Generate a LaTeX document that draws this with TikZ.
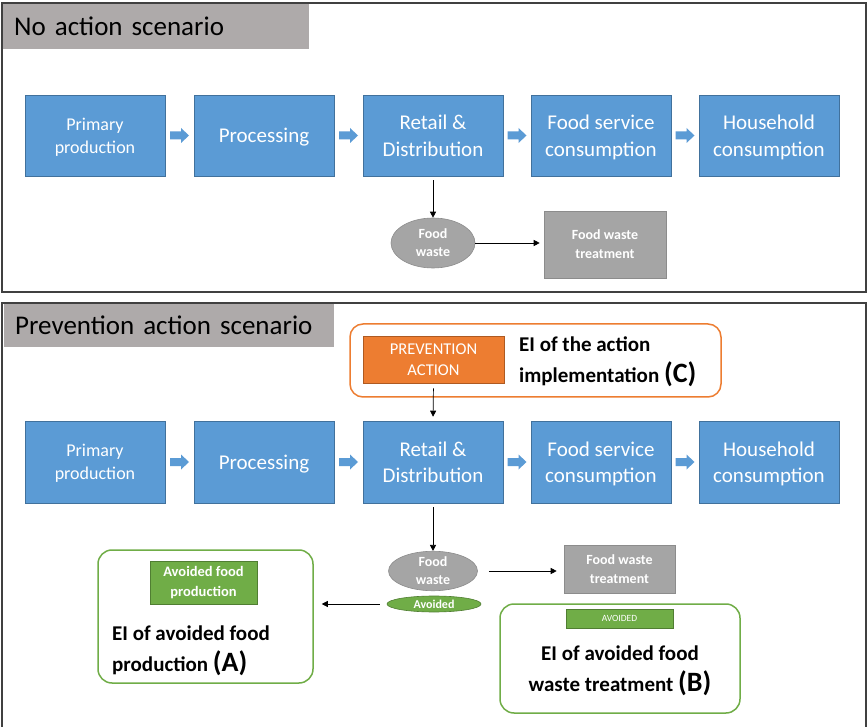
\documentclass[tikz,border=0pt]{standalone}
\usepackage{fontspec}
\setmainfont{Carlito}
\usetikzlibrary{shapes.geometric,arrows.meta,calc}
\definecolor{bluefill}{HTML}{5B9BD5}
\definecolor{blueline}{HTML}{41719C}
\definecolor{titlegray}{HTML}{AEAAAA}
\definecolor{boxgray}{HTML}{A5A5A5}
\definecolor{boxgrayline}{HTML}{8C8C8C}
\definecolor{orfill}{HTML}{ED7D31}
\definecolor{orline}{HTML}{AE5A21}
\definecolor{grfill}{HTML}{70AD47}
\definecolor{grline}{HTML}{507E32}
\definecolor{panelline}{HTML}{404040}
\newcommand\blkarrow[1]{\fill[bluefill] (#1) ++(-9.5,-4) -- ++(11,0) -- ++(0,-3.5) -- ++(8,7.5) -- ++(-8,7.5) -- ++(0,-3.5) -- ++(-11,0) -- cycle;}
\begin{document}
\begin{tikzpicture}[x=1pt,y=-1pt,
  panel/.style={draw=panelline,line width=1.2pt},
  titlebox/.style={fill=titlegray,anchor=north west,inner xsep=11pt,inner ysep=0pt,align=left,font=\fontsize{27}{32}\selectfont},
  stage/.style={draw=blueline,fill=bluefill,line width=0.6pt,minimum width=140pt,minimum height=81pt,inner sep=0pt,text=white,align=center,text depth=0pt,font=\fontsize{21}{26.5}\selectfont},
  smallstage/.style={stage,font=\fontsize{18}{23}\selectfont},
  waste/.style={ellipse,fill=boxgray,draw=boxgrayline,line width=0.6pt,inner sep=0pt,text=white,align=center,font=\bfseries\fontsize{14}{18}\selectfont},
  treat/.style={rectangle,fill=boxgray,draw=boxgrayline,line width=0.6pt,inner sep=0pt,text=white,align=center,font=\bfseries\fontsize{14}{19}\selectfont},
  conn/.style={draw=black,line width=0.7pt,-{Triangle[length=6pt,width=6pt]}},
  orround/.style={draw=orfill,line width=1.5pt,fill=white,rounded corners=13pt},
  grround/.style={rectangle,draw=grfill,line width=1.5pt,fill=white,rounded corners=14pt,inner sep=0pt},
  orrect/.style={rectangle,fill=orfill,draw=orline,line width=0.6pt,inner sep=0pt,text=white,align=center,font=\fontsize{16.5}{21}\selectfont},
  grrect/.style={rectangle,fill=grfill,draw=grline,line width=0.6pt,inner sep=0pt,text=white,align=center,font=\bfseries\fontsize{14.5}{20}\selectfont},
  eitext/.style={inner sep=0pt,font=\bfseries\fontsize{21}{31}\selectfont}
]
\useasboundingbox (0,0) rectangle (868,727);
\fill[white] (0,0) rectangle (868,727);

% ---------- No action scenario ----------
\draw[panel] (2,3) rectangle (866,292);
\node[titlebox,text width=284pt,minimum height=45pt] (t1) at (3,4) {No action scenario};

\node[smallstage] (a1) at (95,135.5) {Primary\\production};
\node[stage] (a2) at (264,135.5) {Processing};
\node[stage] (a3) at (433,135.5) {Retail \&\\Distribution};
\node[stage] (a4) at (601,135.5) {Food service\\consumption};
\node[stage] (a5) at (769,135.5) {Household\\consumption};
\coordinate (x1) at ($(a1.east)!0.5!(a2.west)$);
\coordinate (x2) at ($(a2.east)!0.5!(a3.west)$);
\coordinate (x3) at ($(a3.east)!0.5!(a4.west)$);
\coordinate (x4) at ($(a4.east)!0.5!(a5.west)$);
\blkarrow{x1}\blkarrow{x2}\blkarrow{x3}\blkarrow{x4}

\node[waste,minimum width=84pt,minimum height=50pt] (fw1) at (433,243) {Food\\waste};
\node[treat,minimum width=122pt,minimum height=67pt] (tr1) at (605,244.5) {Food waste\\treatment};
\draw[conn,shorten <=4pt] (a3) -- (fw1);
\draw[conn,shorten >=4pt] (fw1.east) -- (tr1.west |- fw1.east);

% ---------- Prevention action scenario ----------
\draw[panel] (2,303) rectangle (866,745);
\node[titlebox,text width=308pt,minimum height=43pt] (t2) at (4,304) {Prevention action scenario};

\node[orround,minimum width=371pt,minimum height=73pt,inner sep=0pt] (ob) at (535.5,360.5) {};
\node[orrect,minimum width=141pt,minimum height=47pt] (pa) at (433.5,359.5) {PREVENTION\\ACTION};
\node[eitext,anchor=west,align=left] (ec) at (519,362) {EI of the action\\implementation {\fontsize{28}{31}\selectfont(C)}};

\node[smallstage,minimum height=82pt] (b1) at (95,462) {Primary\\production};
\node[stage,minimum height=82pt] (b2) at (264,462) {Processing};
\node[stage,minimum height=82pt] (b3) at (433,462) {Retail \&\\Distribution};
\node[stage,minimum height=82pt] (b4) at (601,462) {Food service\\consumption};
\node[stage,minimum height=82pt] (b5) at (769,462) {Household\\consumption};
\coordinate (y1) at ($(b1.east)!0.5!(b2.west)$);
\coordinate (y2) at ($(b2.east)!0.5!(b3.west)$);
\coordinate (y3) at ($(b3.east)!0.5!(b4.west)$);
\coordinate (y4) at ($(b4.east)!0.5!(b5.west)$);
\blkarrow{y1}\blkarrow{y2}\blkarrow{y3}\blkarrow{y4}
\draw[conn,shorten <=5pt,shorten >=4pt] (pa.south) -- (b3.north);

\node[waste,minimum width=89pt,minimum height=38pt] (fw2) at (433,571) {Food\\waste};
\node[ellipse,fill=grfill,draw=grline,line width=0.6pt,inner sep=0pt,minimum width=94pt,minimum height=16pt,text=white,font=\bfseries\fontsize{12}{12}\selectfont] (av) at (434,604) {Avoided};
\node[treat,minimum width=111pt,minimum height=48pt] (tr2) at (619.5,569) {Food waste\\treatment};
\draw[conn,shorten <=4pt] (b3) -- (fw2);
\draw[conn,shorten <=11pt,shorten >=7pt] (fw2.east) -- (tr2.west |- fw2.east);

% box A
\node[grround,minimum width=215pt,minimum height=133pt] (ba) at (205.5,616.5) {};
\node[grrect,minimum width=107pt,minimum height=43pt] (ra) at (203.5,582.5) {Avoided food\\production};
\node[eitext,anchor=west,align=left] (ea) at (112,651) {EI of avoided food\\production {\fontsize{28}{31}\selectfont(A)}};
\draw[conn,shorten <=7pt,shorten >=8pt] (av.west) -- (ba.east |- av.west);

% box B
\node[grround,minimum width=240pt,minimum height=109pt] (bb) at (620,658.5) {};
\node[grrect,minimum width=107pt,minimum height=19pt,font=\fontsize{9.5}{10}\selectfont] (rb) at (619.5,618.5) {AVOIDED};
\node[eitext,align=center] (eb) at (620,671) {EI of avoided food\\waste treatment {\fontsize{28}{31}\selectfont(B)}};
\end{tikzpicture}
\end{document}
